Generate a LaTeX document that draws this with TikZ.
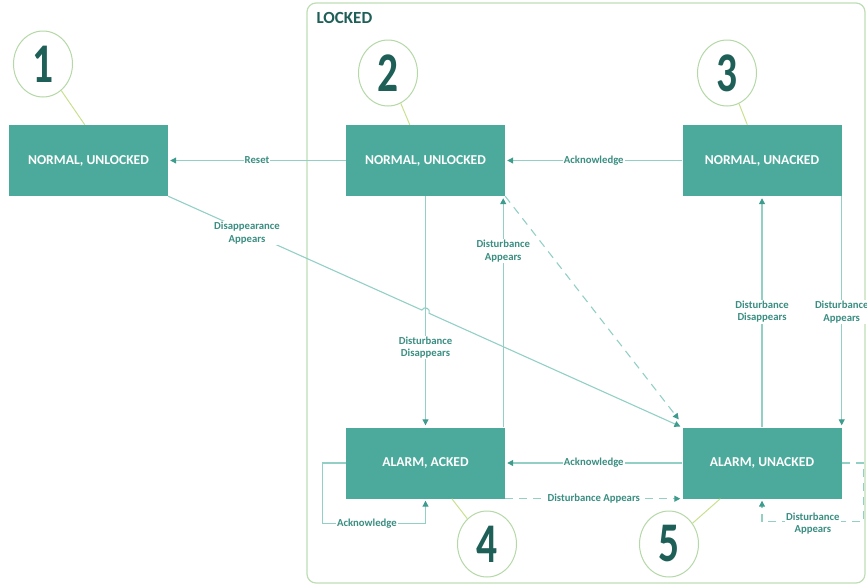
\documentclass[tikz,border=0pt]{standalone}
\usepackage{fontspec}
\setmainfont{Carlito}
\usetikzlibrary{arrows.meta,shapes.geometric,calc}
\definecolor{boxfill}{HTML}{4BAA9C}
\definecolor{linec}{HTML}{92D0C6}
\definecolor{tipc}{HTML}{3E9C8E}
\definecolor{labc}{HTML}{3A8E82}
\definecolor{digc}{HTML}{1E5F58}
\definecolor{ringc}{HTML}{B4D8A6}
\definecolor{stemc}{HTML}{C9E08E}
\definecolor{lockc}{HTML}{BEDDB4}
\begin{document}
\begin{tikzpicture}[x=1pt,y=-1pt,
 state/.style={fill=boxfill, minimum width=159pt, minimum height=71pt, inner sep=0pt, text=white, font=\fontsize{13.6}{16}\selectfont\bfseries},
 badge/.style={ellipse, draw=ringc, line width=1pt, minimum width=59pt, minimum height=66pt, inner sep=0pt, fill=white, text=digc, font=\fontsize{56}{60}\selectfont\bfseries},
 stem/.style={draw=stemc, line width=1pt},
 conn/.style={draw=linec, line width=1.1pt, -{Triangle[length=6pt,width=6pt,color=tipc]}, shorten >=2pt},
 dconn/.style={conn, dash pattern=on 8pt off 6pt},
 lab/.style={fill=white, text=labc, inner sep=1pt, align=center, font=\fontsize{10.7}{12.5}\selectfont\bfseries},
]
\useasboundingbox (0,0) rectangle (867,584);
% container
\draw[lockc, line width=1.2pt, rounded corners=9pt] (307,3) rectangle (865,583);
\node[anchor=west, text=digc, font=\fontsize{17}{20}\selectfont\bfseries] (lockedlbl) at (313,18) {LOCKED};
% states
\node[state] (b1) at (88.5,160.5) {NORMAL, UNLOCKED};
\node[state] (b2) at (425.5,160.5) {NORMAL, UNLOCKED};
\node[state] (b3) at (762,160.5) {NORMAL, UNACKED};
\node[state] (b4) at (425.5,463) {ALARM, ACKED};
\node[state] (b5) at (762,463) {ALARM, UNACKED};
% badges
\node[badge] (c1) at (43,64) {\scalebox{0.74}[1]{1}};
\node[badge] (c2) at (388,73) {\scalebox{0.74}[1]{2}};
\node[badge] (c3) at (727,73) {\scalebox{0.74}[1]{3}};
\node[badge] (c4) at (487,544) {\scalebox{0.74}[1]{4}};
\node[badge] (c5) at (669,544) {\scalebox{0.74}[1]{5}};
\coordinate (s1) at ($(b1.north west)+(76,0)$);
\coordinate (s2) at ($(b2.north west)+(64,0)$);
\coordinate (s3) at ($(b3.north west)+(65,0)$);
\coordinate (s4) at ($(b4.south west)+(106,0)$);
\coordinate (s5) at ($(b5.south west)+(38,0)$);
\draw[stem] (c1) -- (s1);
\draw[stem] (c2) -- (s2);
\draw[stem] (c3) -- (s3);
\draw[stem] (c4) -- (s4);
\draw[stem] (c5) -- (s5);
% horizontal connectors
\draw[conn] (b2.west) -- (b1.east) node[lab, pos=0.5] {Reset};
\draw[conn] (b3.west) -- (b2.east) node[lab, pos=0.5] {Acknowledge};
\draw[conn] (b5.west) -- (b4.east) node[lab, pos=0.5] {Acknowledge};
\draw[dconn] (b4.south east) -- (b5.south west) node[lab, pos=0.5] {Disturbance Appears};
% vertical connectors
\draw[conn] (b2.south) -- (b4.north) node[lab, pos=0.654] {Disturbance\\Disappears};
\coordinate (u4) at ($(b4.north east)+(-2,0)$);
\coordinate (u2) at ($(b2.south east)+(-2,0)$);
\draw[conn] (u4) -- (u2) node[lab, pos=0.762] {Disturbance\\Appears};
\draw[conn] (b5.north) -- (b3.south) node[lab, pos=0.5] {Disturbance\\Disappears};
\draw[conn] (b3.south east) -- (b5.north east) node[lab, pos=0.502] {Disturbance\\Appears};
% diagonal dashed
\coordinate (dEnd) at (680,421);
\draw[dconn] (b2.south east) -- (dEnd);
% diagonal with hop
\coordinate (hA) at (421.85,310.06);
\coordinate (hB) at (429.15,313.34);
\coordinate (hc1) at (423.9,305.5);
\coordinate (hc2) at (431.2,308.8);
\coordinate (lblD) at (247,233);
\draw[conn] (b1.south east) -- (hA) .. controls (hc1) and (hc2) .. (hB) -- (b5.north west);
\node[lab] (dap) at (lblD) {Disappearance\\Appears};
% self loops
\coordinate (l4) at ($(b4.south)+(0,25)$);
\draw[conn] (b4.west) -- ++(-23,0) |- (l4) node[lab, pos=0.715] {Acknowledge} -- (b4.south);
\coordinate (l5) at ($(b5.south)+(0,23)$);
\draw[dconn] (b5.east) -- ++(22,0) |- (l5) node[lab, pos=0.75, yshift=-2pt] {Disturbance\\Appears} -- (b5.south);
\end{tikzpicture}
\end{document}
